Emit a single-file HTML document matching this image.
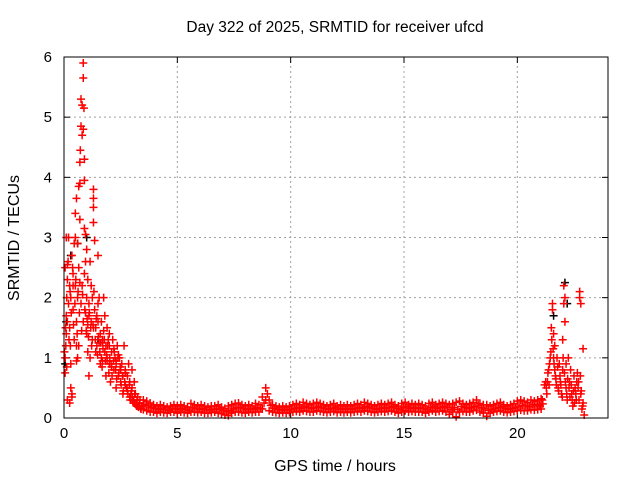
<!DOCTYPE html>
<html><head><meta charset="utf-8"><style>
html,body{margin:0;padding:0;background:#fff}
svg{display:block;font-family:"Liberation Sans",sans-serif}
</style></head><body>
<svg id="chart" width="640" height="480" viewBox="0 0 640 480">
<rect width="640" height="480" fill="#fff"/>
<text x="335" y="32" text-anchor="middle" font-size="15.5">Day 322 of 2025, SRMTID for receiver ufcd</text>
<text x="335" y="471" text-anchor="middle" font-size="16">GPS time / hours</text>
<text transform="translate(19,238) rotate(-90)" text-anchor="middle" font-size="16">SRMTID / TECUs</text>
<g id="grid"></g>
<g id="ticks"></g>
<g id="marks"></g>
<rect x="64" y="57" width="544" height="361" fill="none" stroke="#000" stroke-width="1"/>
</svg>
<script>
const xTicks=[0,5,10,15,20];
const yTicks=[0,1,2,3,4,5,6];
const redT=[0.05,0.05,0.08,0.1,0.1,0.12,0.15,0.15,0.2,0.25,0.25,0.28,0.3,0.3,0.35,0.35,0.4,0.4,0.45,0.5,0.5,0.55,0.55,0.6,0.6,0.65,0.65,0.7,0.7,0.7,0.72,0.75,0.75,0.8,0.8,0.85,0.85,0.85,0.88,0.9,0.9,0.9,0.95,0.95,1.0,1.0,1.0,1.05,1.05,1.1,1.1,1.15,1.2,1.2,1.25,1.3,1.3,1.3,1.3,1.32,1.35,1.35,1.4,1.45,1.5,1.5,1.55,1.6,1.6,1.65,1.7,1.75,1.8,1.8,1.85,1.9,1.95,2.0,2.0,2.05,2.1,2.15,2.2,2.25,2.3,2.35,2.4,2.45,2.5,2.55,2.6,2.65,2.7,2.75,2.8,2.85,2.9,2.95,3.0,3.0,3.05,3.1,3.15,3.2,3.25,3.3,3.35,3.4,3.45,
0.05,0.1,0.15,0.2,0.3,0.35,0.45,0.5,0.55,0.6,0.65,0.75,0.8,0.85,0.95,1.05,1.15,1.25,1.4,1.45,1.55,1.65,1.7,1.75,1.85,1.9,2.0,2.1,2.2,2.3,2.4,2.5,2.6,2.7,2.8,2.9,3.0,3.1,3.2,
0.02,0.07,0.12,0.18,0.22,0.27,0.32,0.38,0.42,0.48,0.52,0.58,0.62,0.68,0.78,0.82,0.92,0.98,1.02,1.08,1.12,1.18,1.22,1.28,1.38,1.42,1.48,1.52,1.58,1.62,1.68,1.72,1.78,1.82,1.88,1.92,1.98,2.02,2.08,2.12,2.18,2.22,2.28,2.32,2.38,2.42,2.48,2.52,2.58,2.62,2.68,2.72,2.78,2.82,2.88,2.92,2.98,3.02,3.08,3.12,3.18,3.22,3.28,3.32,3.38,3.42,
0.15,0.25,0.4,0.55,0.7,0.9,1.1,1.3,1.5,1.7,1.9,2.1,2.3,2.5,2.7,
21.0,21.1,21.2,21.25,21.3,21.35,21.4,21.45,21.5,21.55,21.55,21.6,21.6,21.65,21.65,21.7,21.75,21.8,21.85,21.9,21.95,22.0,22.0,22.05,22.05,22.1,22.1,22.15,22.15,22.2,22.25,22.3,22.35,22.4,22.45,22.5,22.55,22.6,22.65,22.7,22.75,22.75,22.8,22.8,22.85,22.9,22.9,22.95,
21.28,21.33,21.38,21.42,21.48,21.52,21.58,21.62,21.68,21.72,21.78,21.82,21.88,21.92,21.98,22.02,22.08,22.12,22.18,22.22,22.28,22.32,22.38,22.42,22.48,22.52,22.58,22.62,22.68,22.72,22.78,22.82,22.88];
const redV=[0.75,1.0,1.2,1.4,1.7,2.0,2.3,2.55,3.0,2.2,1.5,1.2,0.9,0.5,0.4,0.35,1.8,2.4,2.9,3.0,3.4,3.65,1.6,1.0,2.0,3.85,2.5,3.3,3.9,4.25,4.45,4.85,5.3,5.2,4.7,5.9,5.65,4.8,5.15,4.3,3.95,3.15,3.05,2.6,2.8,2.0,1.4,2.3,1.1,1.9,0.7,2.6,1.6,2.2,1.3,3.8,3.65,3.5,3.25,2.1,2.95,1.8,1.5,1.2,1.6,2.7,2.0,1.4,0.9,1.0,1.3,2.0,1.7,1.1,0.7,1.5,1.3,0.9,1.2,0.6,1.1,1.3,0.8,1.0,0.5,1.2,0.7,1.0,0.6,0.9,0.4,1.2,0.8,0.5,0.7,0.9,0.6,0.4,0.8,0.5,0.3,0.6,0.4,0.25,0.35,0.2,0.3,0.15,0.2,
2.5,3.0,1.6,1.9,2.0,2.7,1.3,2.2,0.95,2.9,1.2,1.9,2.2,1.6,1.75,1.55,1.0,2.0,1.1,1.7,1.25,1.6,0.95,1.45,1.2,0.95,1.4,0.85,1.15,0.95,1.05,0.8,0.7,0.55,0.45,0.35,0.3,0.25,0.2,
1.1,1.5,0.85,2.6,1.3,2.1,1.75,2.5,1.55,1.9,2.3,1.4,2.1,1.75,1.45,2.05,1.8,1.45,1.65,1.35,1.75,1.5,1.2,1.55,1.3,1.65,1.05,1.35,1.1,1.25,0.85,1.15,1.3,0.95,1.05,1.2,0.75,1.0,0.9,0.7,0.95,1.1,0.8,0.65,1.0,0.75,0.85,0.55,0.7,0.45,0.6,0.75,0.5,0.4,0.55,0.3,0.45,0.35,0.28,0.4,0.22,0.3,0.18,0.25,0.16,0.2,
0.3,0.25,2.2,1.2,2.25,2.4,1.7,1.5,1.9,1.25,1.0,0.85,0.9,0.8,0.75,
0.2,0.3,0.55,0.6,0.4,0.75,0.55,1.0,1.5,1.8,1.9,1.4,1.0,1.2,0.8,0.65,1.0,0.5,0.9,0.6,0.4,0.8,1.3,2.2,1.9,2.0,1.6,0.9,0.5,0.3,1.0,0.6,0.8,0.4,0.2,0.7,0.5,0.3,0.75,0.6,2.0,2.1,1.9,0.4,0.15,1.15,0.25,0.05,
0.5,0.6,0.8,0.9,1.1,1.3,1.15,0.9,0.7,0.55,0.85,0.45,0.7,0.55,0.35,1.0,0.75,0.6,0.4,0.65,0.5,0.35,0.55,0.3,0.45,0.25,0.4,0.6,0.5,0.3,0.7,0.45,0.2];
const baseT=[3.5,3.65,3.8,3.95,4.1,4.25,4.4,4.55,4.7,4.85,5.0,5.15,5.3,5.45,5.6,5.75,5.9,6.05,6.2,6.35,6.5,6.65,6.8,6.95,7.1,7.25,7.4,7.55,7.7,7.85,8.0,8.15,8.3,8.45,8.6,8.75,8.9,9.05,9.2,9.35,9.5,9.65,9.8,9.95,10.1,10.25,10.4,10.55,10.7,10.85,11.0,11.15,11.3,11.45,11.6,11.75,11.9,12.05,12.2,12.35,12.5,12.65,12.8,12.95,13.1,13.25,13.4,13.55,13.7,13.85,14.0,14.15,14.3,14.45,14.6,14.75,14.9,15.05,15.2,15.35,15.5,15.65,15.8,15.95,16.1,16.25,16.4,16.55,16.7,16.85,17.0,17.15,17.3,17.45,17.6,17.75,17.9,18.05,18.2,18.35,18.5,18.65,18.8,18.95,19.1,19.25,19.4,19.55,19.7,19.85,20.0,20.15,20.3,20.45,20.6,20.75,20.9,21.05];
const baseHi=[0.3,0.28,0.25,0.22,0.2,0.22,0.2,0.18,0.2,0.22,0.2,
0.22,0.2,0.18,0.24,0.22,0.2,0.22,0.2,0.18,0.2,
0.2,0.22,0.18,0.16,0.2,0.22,0.24,0.25,0.22,0.2,
0.22,0.2,0.24,0.22,0.35,0.5,0.3,0.22,0.2,0.18,
0.2,0.18,0.2,0.22,0.24,0.22,0.26,0.24,0.22,0.24,
0.26,0.24,0.22,0.2,0.22,0.24,0.2,0.22,0.2,0.22,
0.2,0.22,0.24,0.22,0.26,0.24,0.22,0.2,0.22,0.24,
0.22,0.24,0.26,0.22,0.2,0.24,0.26,0.22,0.24,0.22,
0.24,0.22,0.2,0.24,0.26,0.22,0.24,0.26,0.24,0.22,
0.24,0.26,0.28,0.24,0.22,0.24,0.26,0.3,0.24,0.22,
0.22,0.2,0.22,0.24,0.26,0.22,0.2,0.22,0.24,0.28,
0.3,0.28,0.26,0.3,0.28,0.3,0.32];
const baseLo=[0.14,0.12,0.1,0.1,0.08,0.1,0.09,0.08,0.1,0.1,0.08,
0.1,0.09,0.08,0.1,0.1,0.09,0.1,0.08,0.08,0.09,
0.1,0.08,0.07,0.05,0.04,0.08,0.1,0.1,0.09,0.08,
0.1,0.09,0.1,0.1,0.15,0.3,0.12,0.1,0.09,0.08,
0.09,0.08,0.09,0.1,0.11,0.1,0.12,0.11,0.1,0.1,
0.12,0.11,0.1,0.09,0.1,0.11,0.09,0.1,0.09,0.1,
0.09,0.1,0.11,0.1,0.12,0.11,0.1,0.09,0.1,0.11,
0.1,0.11,0.12,0.1,0.08,0.1,0.12,0.1,0.11,0.1,
0.1,0.1,0.08,0.1,0.12,0.1,0.11,0.12,0.1,0.06,
0.1,0.02,0.1,0.11,0.1,0.1,0.12,0.13,0.1,0.08,
0.03,0.08,0.1,0.11,0.12,0.1,0.09,0.1,0.11,0.12,
0.13,0.12,0.12,0.14,0.13,0.14,0.15];
const blackT=[0.05,0.1,0.3,0.6,1.0,1.5,21.6,22.1,22.2];
const blackV=[0.9,1.6,2.7,2.9,3.0,1.3,1.7,2.25,1.9];

const X0=64,X1=608,Y0=418,Y1=57,XMAX=24,YMAX=6;
function sx(t){return X0+(X1-X0)*t/XMAX;}
function sy(v){return Y0-(Y0-Y1)*v/YMAX;}
const NS='http://www.w3.org/2000/svg';
const grid=document.getElementById('grid'),ticks=document.getElementById('ticks'),marks=document.getElementById('marks');
function mk(tag,attrs,parent){const e=document.createElementNS(NS,tag);for(const k in attrs)e.setAttribute(k,attrs[k]);parent.appendChild(e);return e;}
xTicks.forEach(t=>{
  const x=sx(t);
  if(t>0){const g=mk('line',{x1:x,x2:x,y1:Y0,y2:Y1,stroke:'#a0a0a0','stroke-dasharray':'2,3'},grid);
  
  }
  const a=mk('line',{x1:x,x2:x,y1:Y0,y2:Y0-6,stroke:'#000'},ticks);
  
  
  const b=mk('line',{x1:x,x2:x,y1:Y1,y2:Y1+6,stroke:'#000'},ticks);
  
  
  const l=mk('text',{x:x,y:Y0+20,'text-anchor':'middle','font-size':'15'},ticks);l.textContent=t;
  
  
});
yTicks.forEach(v=>{
  const y=sy(v);
  if(v>0&&v<YMAX){const g=mk('line',{x1:X0,x2:X1,y1:y,y2:y,stroke:'#a0a0a0','stroke-dasharray':'2,3'},grid);
  
  }
  const a=mk('line',{x1:X0,x2:X0+6,y1:y,y2:y,stroke:'#000'},ticks);
  
  
  const b=mk('line',{x1:X1,x2:X1-6,y1:y,y2:y,stroke:'#000'},ticks);
  
  
  const l=mk('text',{x:X0-12,y:y+5,'text-anchor':'end','font-size':'15'},ticks);l.textContent=v;
  
  
});
function plus(t,v,color,name){
  const x=sx(t),y=sy(v);
  const p=mk('path',{d:'M'+(x-4)+' '+y+'H'+(x+4)+'M'+x+' '+(y-4)+'V'+(y+4),stroke:color,'stroke-width':'1.5',fill:'none'},marks);
  
  
}
blackT.forEach((t,i)=>plus(t,blackV[i],'#000','point-black'));
baseT.forEach((t,i)=>{plus(t,baseHi[i],'#f00','point-red');plus(t,baseLo[i],'#f00','point-red');plus(t+0.075,(baseHi[i]+baseLo[i])/2,'#f00','point-red');});
redT.forEach((t,i)=>plus(t,redV[i],'#f00','point-red'));
</script>
</body></html>
